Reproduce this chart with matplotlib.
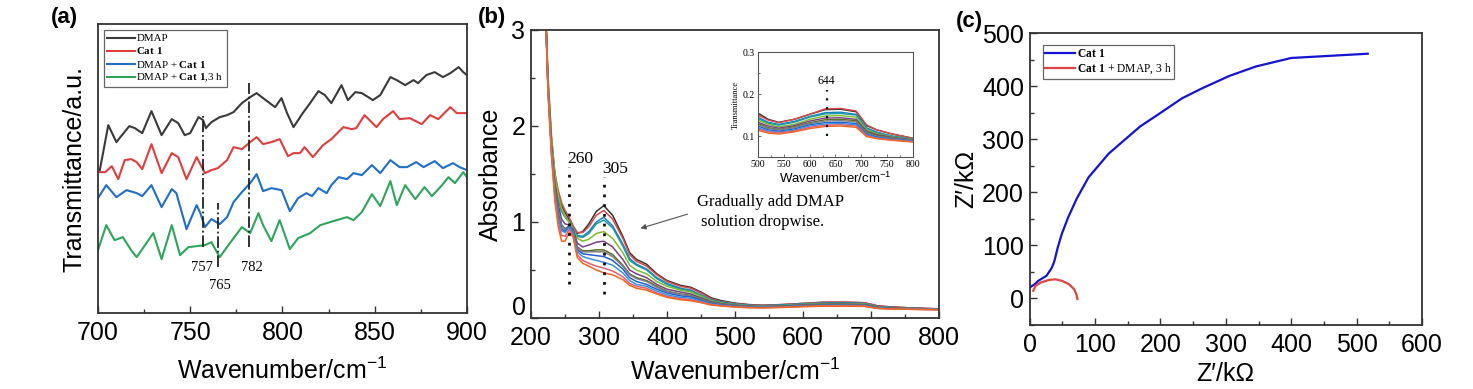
import matplotlib
matplotlib.use("Agg")
import matplotlib.pyplot as plt
from matplotlib.ticker import MultipleLocator

plt.rcParams["font.family"] = ["Liberation Sans", "DejaVu Sans"]
plt.rcParams["mathtext.fontset"] = "custom"
plt.rcParams["mathtext.rm"] = "Liberation Serif"
plt.rcParams["mathtext.bf"] = "Liberation Serif:bold"
plt.rcParams["mathtext.sf"] = "Liberation Sans"

# ---- (a) FT-IR, arbitrary offset units ----
wn_dmap = [701, 705.6, 710, 713, 717, 720, 724, 729, 734.5, 740, 743.5, 747, 750, 754.5, 757,
           758.5, 761.5, 766, 770, 773.5, 778, 782.5, 786, 789.5, 796, 799.5, 802.5, 806, 811,
           815, 819.5, 823, 826.5, 832, 835.5, 839.5, 843, 846.5, 849, 853, 858.5, 862, 866.5,
           871, 873.5, 878, 882.5, 887, 891, 895.5, 898, 900]
t_dmap = [143, 188, 171, 178, 187, 185, 180, 202, 178, 194, 190, 178, 180, 196, 193,
          185, 191, 196, 198, 201, 210, 216, 220, 215, 206, 215, 200, 186, 200,
          210, 222, 218, 210, 228, 213, 221, 220, 216, 213, 218, 236, 233, 228,
          233, 230, 238, 241, 236, 240, 246, 241, 238]

wn_cat = [701, 704, 707.5, 711, 714.5, 718, 721, 724, 729, 734.5, 740, 743.5, 748, 753.5, 758,
          761.5, 765, 770, 773.5, 778, 782.5, 786, 789.5, 794, 798.5, 803, 806, 809.5, 812,
          816.5, 822, 826.5, 833, 837.5, 840, 844.5, 851, 854.5, 860, 863.5, 869, 875.5, 880,
          884.5, 891, 894.5, 900]
t_cat = [141, 141, 147, 134, 153, 154, 151, 144, 169, 140, 160, 156, 134, 156, 140,
         143, 145, 153, 166, 164, 171, 176, 169, 171, 174, 157, 160, 160, 166,
         156, 168, 174, 186, 184, 185, 198, 186, 194, 202, 194, 195, 189, 198,
         194, 206, 200, 200]

wn_mix = [700, 704.5, 710, 715.5, 721, 724, 729, 734.5, 740, 742.5, 748, 753.5, 755.5, 758,
          761.5, 766, 770, 773.5, 778, 782.5, 786, 789.5, 794, 799.5, 804, 808.5, 813, 816,
          819.5, 824, 826.5, 830.5, 835, 838.5, 843, 848.5, 853, 858.5, 863.5, 867.5, 872.5,
          876.5, 882.5, 887, 892.5, 896, 900]
t_mix = [115, 128, 116, 123, 120, 117, 128, 106, 124, 120, 84, 108, 100, 86,
         94, 89, 96, 111, 121, 130, 139, 122, 125, 123, 102, 115, 120, 117,
         125, 120, 128, 136, 134, 140, 138, 148, 140, 153, 146, 146, 151,
         146, 152, 145, 150, 146, 143]

wn_mix3 = [700, 704.5, 709, 713.5, 718, 721, 725.5, 730, 734.5, 740, 744.5, 749, 753.5, 758,
           761.5, 766, 771.5, 778, 782.5, 787, 789.5, 794, 798.5, 804, 808.5, 815, 820.5,
           827.5, 835, 838.5, 843, 848.5, 853, 858.5, 862, 866.5, 872, 877, 881, 886.5, 890,
           893.5, 898, 900]
t_mix3 = [63, 88, 73, 76, 63, 56, 68, 80, 54, 88, 58, 66, 67, 68,
          71, 56, 70, 86, 80, 100, 88, 72, 93, 64, 75, 80, 88,
          92, 96, 93, 101, 119, 107, 132, 108, 128, 114, 126, 117, 128, 136,
          130, 141, 136]

ir_series = [("DMAP", wn_dmap, t_dmap, "#3a3a3a"),
             ("Cat 1", wn_cat, t_cat, "#e23d3d"),
             ("DMAP + Cat 1", wn_mix, t_mix, "#1f6fc9"),
             ("DMAP + Cat 1,3 h", wn_mix3, t_mix3, "#2fa55c")]
ir_labels = ["DMAP", r"$\mathbf{Cat\ 1}$", r"DMAP + $\mathbf{Cat\ 1}$",
             r"DMAP + $\mathbf{Cat\ 1}$,3 h"]
ir_marks = [(757, 66, 198), (765, 46, 110), (782, 66, 230)]
ir_mark_text = [("757", 756.5, 46), ("765", 766, 28), ("782", 783.5, 46)]

# ---- (b) UV-vis titration ----
wl = [220, 225, 230, 235, 240, 245, 250, 256, 262, 268, 276, 285, 296, 307, 320, 335, 345,
      355, 370, 385, 400, 420, 435, 450, 465, 480, 500, 520, 540, 570, 600, 630, 660, 690,
      710, 730, 760, 800]
uv_curves = [
    [3.5, 2.45, 1.85, 1.48, 1.30, 1.17, 1.10, 1.03, 0.95, 0.88, 0.90, 0.98, 1.11, 1.17, 1.07, 0.85, 0.68,
     0.61, 0.56, 0.46, 0.39, 0.34, 0.32, 0.27, 0.21, 0.18, 0.155, 0.14, 0.133, 0.14, 0.152, 0.163, 0.164, 0.158,
     0.125, 0.115, 0.105, 0.095],
    [3.5, 2.5, 1.9, 1.52, 1.33, 1.20, 1.12, 1.05, 0.96, 0.89, 0.89, 0.95, 1.07, 1.12, 1.03, 0.83, 0.66,
     0.59, 0.54, 0.45, 0.38, 0.33, 0.31, 0.26, 0.20, 0.17, 0.15, 0.138, 0.132, 0.14, 0.152, 0.165, 0.166, 0.16,
     0.127, 0.115, 0.105, 0.095],
    [3.5, 2.45, 1.85, 1.45, 1.25, 1.12, 1.06, 1.01, 0.94, 0.86, 0.85, 0.90, 1.00, 1.05, 0.96, 0.77, 0.62,
     0.56, 0.51, 0.42, 0.36, 0.31, 0.29, 0.24, 0.19, 0.165, 0.145, 0.133, 0.128, 0.135, 0.147, 0.156, 0.157, 0.152,
     0.12, 0.11, 0.10, 0.093],
    [3.5, 2.45, 1.85, 1.45, 1.24, 1.11, 1.05, 1.00, 0.93, 0.85, 0.84, 0.88, 0.98, 1.02, 0.94, 0.75, 0.60,
     0.55, 0.50, 0.41, 0.35, 0.30, 0.28, 0.235, 0.185, 0.16, 0.142, 0.131, 0.126, 0.133, 0.145, 0.153, 0.154, 0.15,
     0.118, 0.108, 0.10, 0.092],
    [3.5, 2.5, 1.9, 1.50, 1.28, 1.14, 1.06, 1.00, 0.93, 0.83, 0.80, 0.82, 0.88, 0.90, 0.83, 0.68, 0.55,
     0.50, 0.46, 0.38, 0.33, 0.29, 0.27, 0.225, 0.18, 0.155, 0.138, 0.128, 0.122, 0.128, 0.14, 0.148, 0.149, 0.145,
     0.115, 0.106, 0.098, 0.092],
    [3.5, 2.4, 1.8, 1.40, 1.18, 1.03, 0.98, 0.97, 0.92, 0.78, 0.74, 0.76, 0.79, 0.80, 0.74, 0.61, 0.50,
     0.46, 0.42, 0.35, 0.30, 0.27, 0.25, 0.21, 0.17, 0.15, 0.133, 0.124, 0.119, 0.125, 0.136, 0.143, 0.144, 0.14,
     0.112, 0.104, 0.097, 0.091],
    [3.5, 2.4, 1.78, 1.37, 1.13, 0.97, 0.93, 0.96, 0.90, 0.74, 0.70, 0.70, 0.71, 0.71, 0.66, 0.55, 0.46,
     0.42, 0.39, 0.33, 0.28, 0.25, 0.235, 0.20, 0.16, 0.145, 0.13, 0.12, 0.116, 0.122, 0.132, 0.139, 0.14, 0.137,
     0.11, 0.102, 0.096, 0.09],
    [3.5, 2.4, 1.78, 1.36, 1.12, 0.96, 0.92, 0.96, 0.90, 0.73, 0.69, 0.69, 0.69, 0.69, 0.64, 0.54, 0.45,
     0.41, 0.38, 0.32, 0.275, 0.245, 0.23, 0.195, 0.158, 0.143, 0.128, 0.118, 0.115, 0.12, 0.13, 0.136, 0.137, 0.134,
     0.108, 0.1, 0.095, 0.09],
    [3.5, 2.4, 1.76, 1.33, 1.08, 0.93, 0.90, 0.95, 0.89, 0.71, 0.67, 0.66, 0.65, 0.64, 0.60, 0.51, 0.42,
     0.38, 0.35, 0.30, 0.26, 0.23, 0.22, 0.185, 0.15, 0.137, 0.124, 0.115, 0.112, 0.117, 0.127, 0.132, 0.133, 0.13,
     0.105, 0.098, 0.093, 0.089],
    [3.5, 2.4, 1.75, 1.30, 1.05, 0.91, 0.89, 0.94, 0.88, 0.69, 0.64, 0.62, 0.60, 0.58, 0.55, 0.47, 0.39,
     0.35, 0.33, 0.28, 0.24, 0.215, 0.205, 0.175, 0.145, 0.132, 0.12, 0.112, 0.11, 0.114, 0.124, 0.129, 0.13, 0.127,
     0.103, 0.096, 0.092, 0.088],
    [3.5, 2.35, 1.72, 1.26, 1.0, 0.86, 0.85, 0.92, 0.86, 0.66, 0.60, 0.57, 0.54, 0.52, 0.49, 0.43, 0.36,
     0.33, 0.31, 0.26, 0.225, 0.20, 0.19, 0.165, 0.14, 0.128, 0.117, 0.11, 0.108, 0.112, 0.121, 0.126, 0.127, 0.124,
     0.101, 0.095, 0.091, 0.087],
    [3.5, 2.35, 1.70, 1.22, 0.95, 0.80, 0.80, 0.89, 0.84, 0.63, 0.57, 0.54, 0.50, 0.47, 0.45, 0.40, 0.34,
     0.31, 0.29, 0.25, 0.215, 0.19, 0.18, 0.16, 0.135, 0.125, 0.114, 0.107, 0.105, 0.11, 0.118, 0.123, 0.124, 0.121,
     0.099, 0.094, 0.09, 0.086],
]
uv_colors = ["#333333", "#e04848", "#1f7fc4", "#1a9aa0", "#7cbc2c", "#7a3f80",
             "#5a6a2a", "#808080", "#2060d0", "#3a90e0", "#e06070", "#f26522"]
uv_yticks = [0, 1, 2, 3]

# ---- (c) Nyquist ----
zre_cat = [0.5, 8, 13, 26, 34, 38, 43, 49, 59, 72, 90, 121, 169, 197, 233, 264, 305, 346, 400, 517]
zim_cat = [21, 27, 33, 43, 58, 71, 96, 121, 153, 188, 228, 273, 324, 347, 377, 396, 419, 437, 453, 461]
zre_mix = [5.6, 9, 17, 30, 40, 50, 60, 68, 71.5, 73]
zim_mix = [14.5, 24, 30, 35, 36, 33, 27, 17.5, 8, -1]

TICK_FS = 18
LABEL_FS = 18
SPINE = "#333333"


def style_axes(ax):
    for s in ax.spines.values():
        s.set_color(SPINE)
        s.set_linewidth(1.3)
    ax.tick_params(which="both", direction="in", color=SPINE, labelsize=TICK_FS, pad=6)
    ax.tick_params(which="major", length=5, width=1)
    ax.tick_params(which="minor", length=3, width=1)


def xlabel_text():
    return r"Wavenumber/cm$^{\mathsf{-1}}$"


fig = plt.figure(figsize=(14.73, 3.89), dpi=100)

# (a)
ax_a = fig.add_axes([0.0665, 0.195, 0.2505, 0.743])
handles = []
for (name, x, y, c), lab in zip(ir_series, ir_labels):
    h, = ax_a.plot(x, y, color=c, lw=1.5, label=lab)
    handles.append(h)
for x, y0, y1 in ir_marks:
    ax_a.plot([x, x], [y0, y1], color="#222222", lw=1.3, ls="-.")
for t, x, y in ir_mark_text:
    ax_a.text(x, y, t, ha="center", va="center", fontsize=10.5, family="Liberation Serif")
ax_a.set_xlim(700, 900)
ax_a.set_ylim(0, 289)
ax_a.set_yticks([])
ax_a.xaxis.set_major_locator(MultipleLocator(50))
ax_a.xaxis.set_minor_locator(MultipleLocator(25))
style_axes(ax_a)
ax_a.set_xlabel(xlabel_text(), fontsize=LABEL_FS, labelpad=9)
ax_a.set_ylabel("Transmittance/a.u.", fontsize=LABEL_FS, labelpad=8)
leg = ax_a.legend(handles=handles, loc="upper left", bbox_to_anchor=(0.016, 0.978),
                  prop={"family": "Liberation Serif", "size": 7.8}, frameon=True,
                  fancybox=False, framealpha=1, edgecolor="#666666", borderpad=0.3,
                  labelspacing=0.2, handlelength=2.6, handletextpad=0.1, borderaxespad=0)
leg.get_frame().set_linewidth(0.9)

# (b)
ax_b = fig.add_axes([0.3605, 0.1825, 0.277, 0.7405])
for vals, c in zip(uv_curves, uv_colors):
    ax_b.plot(wl, vals, color=c, lw=1.1)
ax_b.set_xlim(200, 800)
ax_b.set_ylim(0, 3)
ax_b.xaxis.set_major_locator(MultipleLocator(100))
ax_b.xaxis.set_minor_locator(MultipleLocator(50))
ax_b.set_yticks(uv_yticks)
ax_b.set_yticklabels([""] + [str(v) for v in uv_yticks[1:]])
ax_b.yaxis.set_minor_locator(MultipleLocator(0.5))
style_axes(ax_b)
ax_b.tick_params(axis="y", pad=4)
# the "0" label sits a little above its tick, as in the original
ax_b.text(-0.012, 0.035, str(uv_yticks[0]), transform=ax_b.transAxes, ha="right",
          va="center", fontsize=TICK_FS)
ax_b.plot([256, 256], [0.35, 1.57], color="#111111", lw=2, ls=(0, (1, 2.5)))
ax_b.plot([307, 307], [0.25, 1.47], color="#111111", lw=2, ls=(0, (1, 2.5)))
ax_b.text(273, 1.66, "260", ha="center", va="center", fontsize=12.5, family="Liberation Serif")
ax_b.text(324, 1.55, "305", ha="center", va="center", fontsize=12.5, family="Liberation Serif")
ax_b.text(444, 1.21, "Gradually add DMAP", ha="left", va="center", fontsize=12,
          family="Liberation Serif")
ax_b.text(450, 1.00, "solution dropwise.", ha="left", va="center", fontsize=12,
          family="Liberation Serif")
ax_b.annotate("", xy=(357, 0.925), xytext=(434, 1.09),
              arrowprops=dict(arrowstyle="-|>", color="#555555", lw=0.8,
                              mutation_scale=8))
ax_b.set_xlabel(xlabel_text(), fontsize=LABEL_FS, labelpad=6)
ax_b.set_ylabel("Absorbance", fontsize=LABEL_FS, labelpad=6)

# inset
ax_in = fig.add_axes([0.5146, 0.596, 0.1052, 0.27])
for vals, c in zip(uv_curves, uv_colors):
    ax_in.plot(wl, vals, color=c, lw=1.0)
ax_in.set_xlim(500, 800)
ax_in.set_ylim(0.05, 0.3)
ax_in.xaxis.set_major_locator(MultipleLocator(50))
ax_in.xaxis.set_minor_locator(MultipleLocator(25))
ax_in.yaxis.set_major_locator(MultipleLocator(0.1))
ax_in.yaxis.set_minor_locator(MultipleLocator(0.05))
for s in ax_in.spines.values():
    s.set_color("#555555")
    s.set_linewidth(0.8)
ax_in.tick_params(which="both", direction="in", color="#555555", labelsize=7, pad=2,
                  labelfontfamily="Liberation Serif")
ax_in.tick_params(which="major", length=2.5, width=0.6)
ax_in.tick_params(which="minor", length=1.5, width=0.6)
ax_in.plot([633, 633], [0.10, 0.21], color="#111111", lw=1.6, ls=(0, (1, 3)))
ax_in.text(632, 0.232, "644", ha="center", va="center", fontsize=8.5, family="Liberation Serif")
ax_in.set_xlabel(xlabel_text(), fontsize=9.5, labelpad=1)
ax_in.set_ylabel("Transmittance", fontsize=6, family="Liberation Serif", labelpad=2)

# (c)
ax_c = fig.add_axes([0.699, 0.1645, 0.2664, 0.7506])
ax_c.plot(zre_cat, zim_cat, color="#1414d2", lw=1.6, label=r"$\mathbf{Cat\ 1}$")
ax_c.plot(zre_mix, zim_mix, color="#e04545", lw=1.6, label=r"$\mathbf{Cat\ 1}$ + DMAP, 3 h")
ax_c.set_xlim(0, 600)
ax_c.set_ylim(-50, 500)
ax_c.xaxis.set_major_locator(MultipleLocator(100))
ax_c.xaxis.set_minor_locator(MultipleLocator(50))
ax_c.yaxis.set_major_locator(MultipleLocator(100))
ax_c.yaxis.set_minor_locator(MultipleLocator(50))
style_axes(ax_c)
ax_c.tick_params(axis="y", pad=4)
ax_c.set_xlabel("Z\u2032/k\u03a9", fontsize=LABEL_FS, labelpad=3)
ax_c.set_ylabel("Z\u2032/k\u03a9", fontsize=LABEL_FS, labelpad=3)
leg_c = ax_c.legend(loc="upper left", bbox_to_anchor=(0.033, 0.96),
                    prop={"family": "Liberation Serif", "size": 8.3}, frameon=True,
                    fancybox=False, framealpha=1, edgecolor="#666666", borderpad=0.25,
                    labelspacing=0.15, handlelength=2.6, handletextpad=0.1, borderaxespad=0)
leg_c.get_frame().set_linewidth(0.9)

# panel letters
for t, x, y in [("(a)", 0.044, 0.955), ("(b)", 0.334, 0.955), ("(c)", 0.658, 0.945)]:
    fig.text(x, y, t, ha="center", va="center", fontsize=16, fontweight="bold")

fig.savefig("out.png", dpi=100)
